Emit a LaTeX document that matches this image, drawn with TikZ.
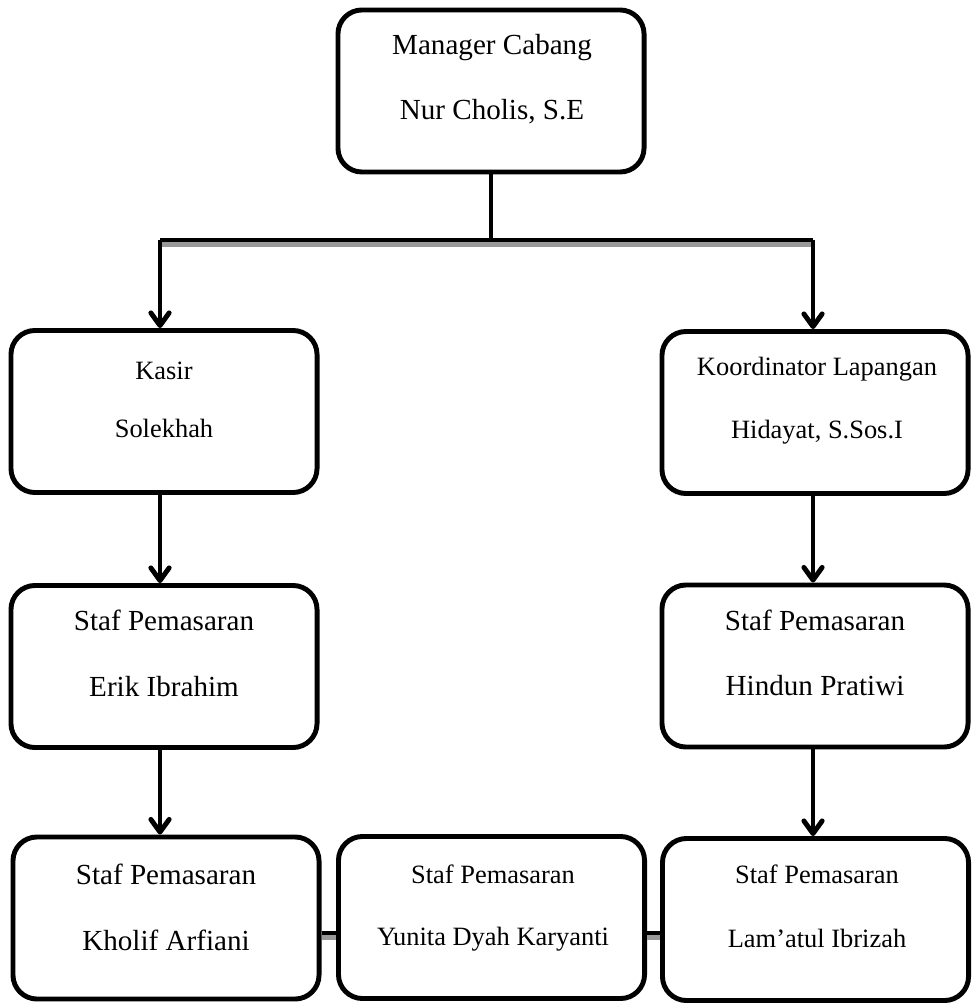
\documentclass[tikz,border=0pt]{standalone}
\usepackage{fontspec}
\setmainfont{Liberation Serif}
\usetikzlibrary{arrows.meta}
\tikzset{
  kotak/.style={draw, line width=3.5pt, rounded corners=0.6cm,
    minimum width=7.65cm, minimum height=4.05cm, inner sep=0pt},
  besar/.style={anchor=base, inner sep=0pt, font=\fontsize{20.7}{24}\selectfont},
  kecil/.style={anchor=base, inner sep=0pt, font=\fontsize{18.8}{22}\selectfont},
  garis/.style={line width=3.5pt},
  bayang/.style={line width=3.5pt, black!40},
}
\begin{document}
\begin{tikzpicture}[x=0.025cm, y=-0.025cm,
    >={Straight Barb[length=9pt, width=13pt, round]}]
      \useasboundingbox (0,0) rectangle (972,1003);
      % kotak
      \node[kotak] (mgr) at (491,91) {};
      \node[kotak] (kasir) at (164,411.5) {};
      \node[kotak] (koord) at (815,412.5) {};
      \node[kotak] (erik) at (164,666.5) {};
      \node[kotak] (hindun) at (815,666) {};
      \node[kotak] (kholif) at (166,918) {};
      \node[kotak] (yunita) at (491.5,917.5) {};
      \node[kotak] (lamatul) at (815.5,919.5) {};
      % teks
      \node[besar] (mgr1) at (492,55) {Manager Cabang};
      \node[besar] (mgr2) at (492,120) {Nur Cholis, S.E};
      \node[kecil] (kasir1) at (164,379) {Kasir};
      \node[kecil] (kasir2) at (164,437) {Solekhah};
      \node[kecil] (koord1) at (817,375) {Koordinator Lapangan};
      \node[kecil] (koord2) at (817,438) {Hidayat, S.Sos.I};
      \node[besar] (erik1) at (164,630) {Staf Pemasaran};
      \node[besar] (erik2) at (164,696) {Erik Ibrahim};
      \node[besar] (hindun1) at (815,630) {Staf Pemasaran};
      \node[besar] (hindun2) at (815,695) {Hindun Pratiwi};
      \node[besar] (kholif1) at (166,884) {Staf Pemasaran};
      \node[besar] (kholif2) at (166,950) {Kholif Arfiani};
      \node[kecil] (yunita1) at (493,883) {Staf Pemasaran};
      \node[kecil] (yunita2) at (493,945) {Yunita Dyah Karyanti};
      \node[kecil] (lamatul1) at (817,883) {Staf Pemasaran};
      \node[kecil] (lamatul2) at (817,947) {Lam’atul Ibrizah};
      % garis
      \coordinate (hl) at (160,240);
      \coordinate (hr) at (813,240);
      \coordinate (hm) at (mgr.south |- hl);
      \draw[bayang] ([yshift=-0.12cm]hl) -- ([yshift=-0.12cm]hr);
      \draw[garis] (mgr.south) -- (hm);
      \draw[garis] (hl) -- (hr);
      \draw[garis, ->] (hl) -- (hl |- kasir.north);
      \draw[garis, ->] (hr) -- (hr |- koord.north);
      \draw[garis, ->] (kasir.south -| hl) -- (erik.north -| hl);
      \draw[garis, ->] (koord.south -| hr) -- (hindun.north -| hr);
      \draw[garis, ->] (erik.south -| hl) -- (kholif.north -| hl);
      \draw[garis, ->] (hindun.south -| hr) -- (lamatul.north -| hr);
      \draw[bayang] ([yshift=-0.12cm]kholif.east |- 0,933) -- ([yshift=-0.12cm]yunita.west |- 0,933);
      \draw[bayang] ([yshift=-0.12cm]yunita.east |- 0,933) -- ([yshift=-0.12cm]lamatul.west |- 0,933);
      \draw[garis] (kholif.east |- 0,933) -- (yunita.west |- 0,933);
      \draw[garis] (yunita.east |- 0,933) -- (lamatul.west |- 0,933);
    \end{tikzpicture}
\end{document}
